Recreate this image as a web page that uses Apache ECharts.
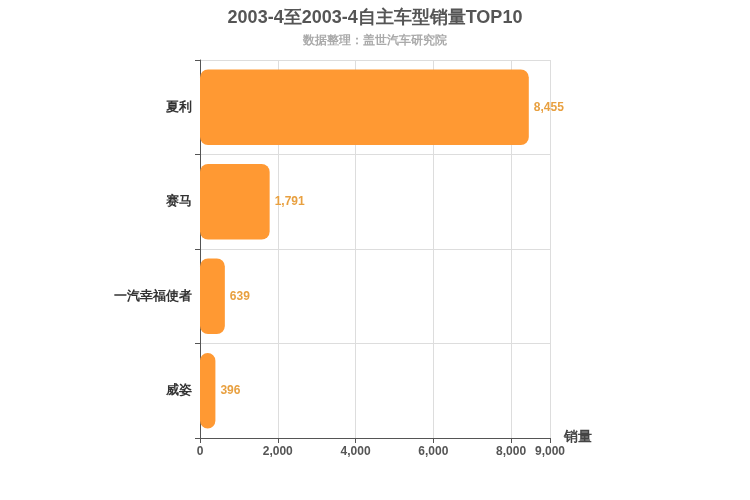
<!DOCTYPE html>
<html><head><meta charset="utf-8">
<script src="https://cdn.jsdelivr.net/npm/echarts@6/dist/echarts.min.js"></script>
</head><body style="margin:0">
<div id="c" style="width:750px;height:500px"></div>
<script>
const categories = ['夏利','赛马','一汽幸福使者','威姿'];
const sales = [8455,1791,639,396];
const chart = echarts.init(document.getElementById('c'));
chart.setOption({
  title:{text:'2003-4至2003-4自主车型销量TOP10',subtext:'数据整理：盖世汽车研究院',left:'center',top:4,
    textStyle:{fontSize:18,fontWeight:'bold',color:'#555'},subtextStyle:{fontSize:12,fontWeight:'bold',color:'#aaa'},itemGap:8},
  grid:{left:200,right:200,top:60,bottom:62},
  xAxis:{type:'value',min:0,max:9000,interval:2000,name:'销量',nameGap:14,
    nameTextStyle:{fontSize:14,fontWeight:'bold',color:'#444',verticalAlign:'top',padding:[-8,0,0,0]},
    axisLine:{show:true,lineStyle:{color:'#555'}},axisTick:{show:true},
    axisLabel:{color:'#555',fontWeight:'bold',fontSize:12,showMaxLabel:true},
    splitLine:{lineStyle:{color:'#ddd'}}},
  yAxis:{type:'category',data:categories,inverse:true,
    axisLine:{lineStyle:{color:'#555'}},axisTick:{show:true},
    axisLabel:{color:'#333',fontWeight:'bold',fontSize:13},
    splitLine:{show:true,lineStyle:{color:'#ddd'}}},
  series:[{type:'bar',data:sales,barWidth:'80%',
    itemStyle:{color:'#ff9933',borderRadius:8},
    label:{show:true,position:'right',color:'#e8a040',fontWeight:'bold',fontSize:12,
      formatter:p=>p.value.toLocaleString('en-US')}}]
});
</script></body></html>
